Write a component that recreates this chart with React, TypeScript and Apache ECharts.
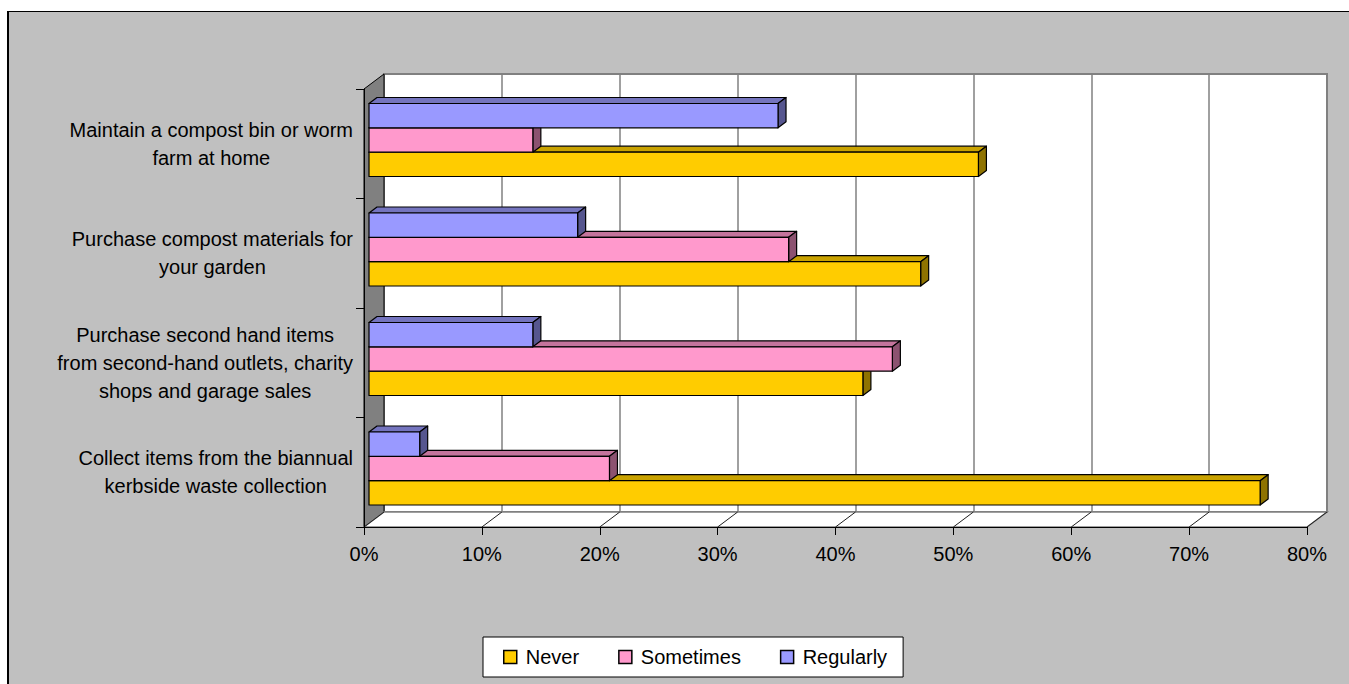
import React, { useEffect, useRef } from "react";
import * as echarts from "echarts";

// Survey answers per activity (percent of respondents)
const categories = [
  "Maintain a compost bin or worm\nfarm at home",
  "Purchase compost materials for\nyour garden",
  "Purchase second hand items\nfrom second-hand outlets, charity\nshops and garage sales",
  "Collect items from the biannual\nkerbside waste collection",
];
const seriesNames = ["Never", "Sometimes", "Regularly"];
const neverValues = [51.7, 46.8, 41.9, 75.6];
const sometimesValues = [13.9, 35.6, 44.4, 20.4];
const regularlyValues = [34.7, 17.7, 13.9, 4.3];
const percentTicks = [0, 10, 20, 30, 40, 50, 60, 70, 80];

const FONT = '"Liberation Sans", Arial, Helvetica, sans-serif';

// Oblique depth of the 3D box (screen pixels from front plane to back wall)
const DEPTH_X = 20;
const DEPTH_Y = 15;
// Bars sit a quarter of the way in and take 40% of the depth
const BAR_FRONT = 0.25;
const BAR_DEPTH = 0.4;

type Palette = { front: string; top: string; side: string };
const palettes: Record<string, Palette> = {
  Never: { front: "#FFCC00", top: "#C9A200", side: "#8F7300" },
  Sometimes: { front: "#FF99CC", top: "#C4749C", side: "#8C5270" },
  Regularly: { front: "#9999FF", top: "#7474BE", side: "#56568F" },
};

function barRenderer(slot: number, pal: Palette) {
  return (_params: any, api: any) => {
    const cat = api.value(1);
    const end = api.coord([api.value(0), cat]);
    const start = api.coord([0, cat]);
    const band = api.size([0, 1])[1];
    const h = band / 4.5;
    const fx = BAR_FRONT * DEPTH_X;
    const fy = BAR_FRONT * DEPTH_Y;
    const bx = BAR_DEPTH * DEPTH_X;
    const by = BAR_DEPTH * DEPTH_Y;
    const cy = end[1] + slot * h - fy;
    const yt = cy - h / 2;
    const yb = cy + h / 2;
    const xl = start[0] + fx;
    const xr = end[0] + fx;
    const edge = { stroke: "#000", lineWidth: 1.2, lineJoin: "round" };
    return {
      type: "group",
      children: [
        {
          type: "polygon",
          shape: { points: [[xl, yt], [xl + bx, yt - by], [xr + bx, yt - by], [xr, yt]] },
          style: { fill: pal.top, ...edge },
        },
        {
          type: "polygon",
          shape: { points: [[xr, yt], [xr + bx, yt - by], [xr + bx, yb - by], [xr, yb]] },
          style: { fill: pal.side, ...edge },
        },
        {
          type: "rect",
          shape: { x: xl, y: yt, width: xr - xl, height: h },
          style: { fill: pal.front, ...edge },
        },
      ],
    };
  };
}

export default function App() {
  const ref = useRef<HTMLDivElement>(null);

  useEffect(() => {
    if (!ref.current) return;
    const chart = echarts.init(ref.current, undefined, { renderer: "svg" });

    const valueSets: Record<string, number[]> = {
      Never: neverValues,
      Sometimes: sometimesValues,
      Regularly: regularlyValues,
    };
    const slots: Record<string, number> = { Never: 1, Sometimes: 0, Regularly: -1 };

    const barSeries = seriesNames.map((name) => ({
      name,
      type: "custom",
      coordinateSystem: "cartesian2d",
      xAxisIndex: 0,
      yAxisIndex: 0,
      z: 3,
      clip: false,
      itemStyle: { color: palettes[name].front },
      data: valueSets[name].map((v, i) => [v, i]),
      renderItem: barRenderer(slots[name], palettes[name]),
    }));

    const option: any = {
      animation: false,
      backgroundColor: "transparent",
      textStyle: { fontFamily: FONT },
      grid: [
        // front plane of the 3D box
        { left: 364, top: 89, width: 943, height: 438, show: false },
        // back wall
        {
          left: 384,
          top: 74,
          width: 943,
          height: 438,
          show: true,
          z: 0,
          backgroundColor: "#FFFFFF",
          borderColor: "#808080",
          borderWidth: 2,
        },
      ],
      xAxis: [
        {
          type: "value",
          gridIndex: 0,
          min: 0,
          max: 80,
          interval: 10,
          z: 4,
          axisLine: { show: true, lineStyle: { color: "#000", width: 1 } },
          axisTick: { show: true, length: 8, lineStyle: { color: "#000", width: 1 } },
          splitLine: { show: false },
          axisLabel: {
            formatter: "{value}%",
            fontSize: 20,
            lineHeight: 20,
            margin: 17,
            color: "#000",
            fontFamily: FONT,
          },
        },
        {
          type: "value",
          gridIndex: 1,
          min: 0,
          max: 80,
          interval: 10,
          z: 1,
          axisLine: { show: false },
          axisTick: { show: false },
          axisLabel: { show: false },
          splitLine: { show: true, lineStyle: { color: "#808080", width: 1.5 } },
        },
      ],
      yAxis: [
        {
          type: "category",
          gridIndex: 0,
          inverse: true,
          data: categories,
          z: 4,
          axisLine: { show: true, lineStyle: { color: "#000", width: 1 } },
          axisTick: { show: true, length: 8, interval: 0, lineStyle: { color: "#000", width: 1 } },
          splitLine: { show: false },
          axisLabel: {
            interval: 0,
            margin: 11,
            align: "right",
            formatter: (v: string) =>
              v
                .split("\n")
                .map((l) => `{c|${l}}`)
                .join("\n"),
            rich: {
              c: {
                align: "center",
                fontSize: 20,
                lineHeight: 28,
                color: "#000",
                fontFamily: FONT,
              },
            },
          },
        },
        {
          type: "value",
          gridIndex: 1,
          show: false,
          splitLine: { show: false },
        },
      ],
      legend: {
        data: seriesNames,
        left: 483,
        top: 637,
        orient: "horizontal",
        icon: "rect",
        itemWidth: 13,
        itemHeight: 13,
        itemGap: 39,
        padding: [10, 16, 10, 20],
        backgroundColor: "#FFFFFF",
        borderColor: "#000",
        borderWidth: 1,
        borderRadius: 0,
        selectedMode: false,
        itemStyle: { borderColor: "#000", borderWidth: 1.5 },
        textStyle: {
          fontSize: 20,
          lineHeight: 20,
          color: "#000",
          fontFamily: FONT,
          padding: [0, 0, 0, 4],
        },
      },
      series: [
        // left wall and floor of the box
        {
          type: "custom",
          coordinateSystem: "cartesian2d",
          xAxisIndex: 0,
          yAxisIndex: 0,
          z: 2,
          silent: true,
          clip: false,
          data: [[0, 0]],
          renderItem: (params: any) => {
            const cs = params.coordSys;
            const x0 = cs.x;
            const y0 = cs.y;
            const x1 = cs.x + cs.width;
            const y1 = cs.y + cs.height;
            return {
              type: "group",
              children: [
                {
                  type: "polygon",
                  shape: {
                    points: [[x0, y0], [x0 + DEPTH_X, y0 - DEPTH_Y], [x0 + DEPTH_X, y1 - DEPTH_Y], [x0, y1]],
                  },
                  style: { fill: "#808080", stroke: "#000", lineWidth: 1 },
                },
                {
                  type: "polygon",
                  shape: {
                    points: [[x0, y1], [x0 + DEPTH_X, y1 - DEPTH_Y], [x1 + DEPTH_X, y1 - DEPTH_Y], [x1, y1]],
                  },
                  style: { fill: "#FFFFFF", stroke: "#808080", lineWidth: 1.5 },
                },
              ],
            };
          },
        },
        // floor lines running back from each percentage tick
        {
          type: "custom",
          coordinateSystem: "cartesian2d",
          xAxisIndex: 0,
          yAxisIndex: 0,
          z: 2,
          silent: true,
          clip: false,
          data: percentTicks.map((t) => [t, 0]),
          renderItem: (params: any, api: any) => {
            const cs = params.coordSys;
            const y1 = cs.y + cs.height;
            const x = api.coord([api.value(0), 0])[0];
            return {
              type: "line",
              shape: { x1: x, y1: y1, x2: x + DEPTH_X, y2: y1 - DEPTH_Y },
              style: { stroke: "#202020", lineWidth: 1 },
            };
          },
        },
        ...barSeries,
      ],
    };

    chart.setOption(option);
    return () => chart.dispose();
  }, []);

  return (
    <div style={{ position: "fixed", left: 0, top: 0, width: 1349, height: 684, background: "#FFFFFF", overflow: "hidden" }}>
      <div
        style={{
          position: "absolute",
          left: 7,
          top: 11,
          right: 0,
          bottom: 0,
          background: "#C0C0C0",
          borderLeft: "2px solid #000",
          borderTop: "1px solid #000",
        }}
      />
      <div ref={ref} style={{ position: "absolute", left: 0, top: 0, width: 1349, height: 684 }} />
    </div>
  );
}
